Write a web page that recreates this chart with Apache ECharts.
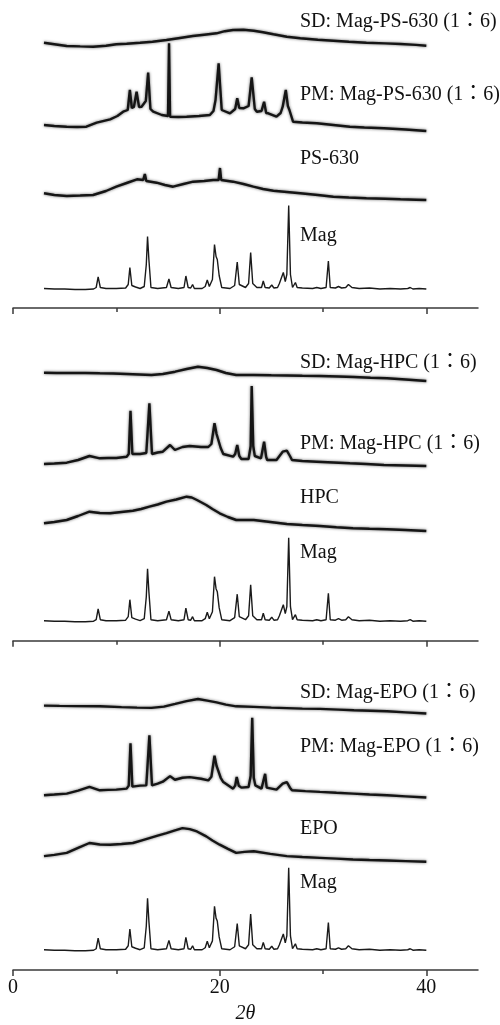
<!DOCTYPE html>
<html>
<head>
<meta charset="utf-8">
<script src="https://cdn.jsdelivr.net/npm/echarts@6/dist/echarts.min.js"></script>
<style>
	html, body { margin: 0; padding: 0; background: #fff; }
	#xrdChart { width: 500px; height: 1025px; }
</style>
</head>
<body>
<div id="xrdChart"></div>
<script>
	//刻度
	var majorTicks = [0, 20, 40];
	var minorTicks = [10, 30];

	//Mag 原料 (三组共用同一图谱)  [2θ, 强度]
	var mag = [[3.0,1],[4,0.5],[5,0.5],[6,0],[7,0],[7.8,0.5],[8.05,2],[8.24,12.7],[8.45,2],[9,1],[10,1],[10.9,1.5],[11.15,5],[11.31,22],[11.5,4],[11.86,2.5],[12.3,1],[12.7,3],[12.9,25],[13.02,53],[13.15,30],[13.35,2],[14,1],[14.85,2],[15.09,10.5],[15.3,2],[16,1],[16.55,2],[16.73,13.5],[16.95,2],[17.2,1.5],[17.38,5],[17.55,1],[18.3,1],[18.6,3],[18.8,9.5],[19.0,3],[19.3,10],[19.5,45],[19.65,33],[19.77,30],[19.95,14],[20.2,2],[21,1],[21.45,4],[21.7,27.5],[21.9,5],[22.5,2],[22.8,6],[23.0,37],[23.2,6],[23.6,2],[24.05,2],[24.22,8.5],[24.4,2],[24.8,1.5],[25.04,4.5],[25.25,1.5],[25.6,2],[25.78,6],[25.95,4],[26.16,17],[26.35,8],[26.5,15],[26.68,84],[26.85,15],[27.05,2],[27.33,7],[27.5,2],[28,1.5],[29,1],[29.4,2],[29.8,1],[30.3,2],[30.52,28.5],[30.7,2],[31.2,1.5],[31.5,3],[31.8,1.5],[32.2,2],[32.46,5],[32.8,2],[33.5,1],[34.5,1.5],[35.5,0.5],[36.5,1],[37.5,0.5],[38.2,1],[38.44,2],[38.7,0.5],[39.3,1],[40,0.5]];

	//PS-630 组
	var sdPs630 = [[3.0,4],[4,2.5],[5.2,0.7],[6.5,0.3],[7.75,0],[9,1],[10,2.4],[11,3],[12.3,4],[13.5,5],[14.85,6.7],[16,8.5],[17.4,10.7],[18.5,12],[19.7,13.4],[20.5,15.5],[21.3,16.7],[22.3,17],[23.3,16],[24.2,14.5],[25.2,12.4],[26.5,10],[27.8,8.4],[29.5,7],[31,6],[32.5,5],[34.2,4],[36,3.3],[37.5,2.7],[39,1.8],[40,1]];
	var pmPs630 = [[3.0,6],[4,5],[5.2,4.3],[6.2,4],[7.1,4.3],[8.1,8.3],[9.4,11.7],[10.1,15],[10.66,19.3],[11.1,21],[11.31,41],[11.5,23],[11.7,24],[11.96,39.3],[12.2,24],[12.44,24.3],[12.85,30],[13.08,58.3],[13.3,22],[13.57,19.3],[14.4,16],[15.0,15],[15.1,87.7],[15.2,14.3],[16,14],[16.8,14.3],[18,15],[19.05,16],[19.4,20],[19.6,31],[19.9,67.7],[20.2,21],[21.0,17.7],[21.5,22],[21.7,32.7],[21.9,23],[22.3,22.7],[22.8,25],[23.1,53.7],[23.4,22],[23.6,19.3],[24.05,20],[24.3,29.3],[24.5,18],[24.7,17.7],[25.5,14.3],[25.9,18],[26.1,24.3],[26.4,41],[26.6,25],[26.75,21],[27.1,9.3],[28,8.5],[29.4,7.7],[31,6],[32.6,4.3],[34,3.5],[35.9,2.7],[38,1.5],[40,0]];
	var ps630 = [[3.0,6.7],[4,5],[5.2,4],[6.5,4.5],[7.75,5],[9,9],[10,13.3],[11,17],[12,20.7],[12.6,20],[12.76,26],[12.9,19],[13.9,17.3],[14.7,15],[15.5,13.3],[16.5,16],[17.44,18.3],[18.5,19],[19.38,20],[19.9,20],[20.03,32],[20.15,20],[21.3,18.3],[22.3,16],[23.26,13.3],[24.2,11],[25.2,9.3],[26.5,8],[27.8,6.7],[29.5,5],[31,3.3],[32.5,2.5],[34.2,1.7],[36,1.2],[37.5,0.7],[39,0.3],[40,0]];

	//HPC 组
	var sdHpc = [[3.0,8.3],[4.2,8],[5.5,8],[7,8],[8.4,7.7],[9.7,7.5],[11,7],[12.2,6.5],[13.4,6],[14.5,7],[15.7,9.3],[16.8,12],[17.9,14.3],[18.8,13],[19.7,11],[20.6,8],[21.6,6],[23.3,6],[25,5.7],[26.5,5.5],[28,5.2],[29.7,5],[31.5,4.5],[33,4],[34.6,3.3],[36.2,2.7],[38,1.5],[40,0]];
	var pmHpc = [[3.0,2],[4,2.5],[5.2,3.3],[6.3,6],[7.4,10],[8.4,7.7],[9.2,8],[10,8],[11.0,9.3],[11.2,12],[11.37,55.3],[11.55,12],[12.3,12],[12.9,13],[13.2,62.7],[13.45,12],[14,13.5],[14.5,14.3],[15.2,21],[15.67,16],[16.4,19],[17.1,20],[18.2,19],[18.9,19],[19.2,22],[19.5,42.7],[19.7,32],[19.87,31],[20.1,18],[20.35,12],[21.3,9.3],[21.5,12],[21.7,21],[21.9,10],[22.1,7],[22.8,7],[23.0,20],[23.1,80],[23.25,20],[23.4,10],[24.0,7.7],[24.3,24.3],[24.5,9],[24.6,6],[25.5,6],[26.1,14.3],[26.5,15.3],[26.8,10],[27.0,6],[28,5],[29.4,4.3],[31,3.5],[32.6,2.7],[34.2,2],[35.9,1],[38,0.5],[40,0]];
	var hpc = [[3.0,7.7],[4,9],[5.2,11],[6.3,15],[7.4,19.3],[8.4,18],[9.4,17.7],[10.5,19],[11.6,20.3],[12.4,22],[13.2,24.3],[14,26.5],[14.85,29.3],[15.8,31.5],[16.8,34.3],[17.3,33.5],[17.8,31],[18.7,26],[19.3,22],[20.0,17.7],[20.8,14],[21.6,11],[22.4,11],[23.3,11],[24.9,9],[26.5,7],[28,6],[29.7,5],[31.3,3.8],[32.9,2.7],[34.5,2.2],[36.2,1.7],[38,1],[40,0]];

	//EPO 组
	var sdEpo = [[3.0,8],[4.5,7.7],[6,7.5],[8.4,7.3],[10.5,6.5],[12,6],[13.4,5.7],[14.6,7],[15.7,9.7],[16.8,12.5],[17.9,14.7],[18.8,13],[19.7,11.3],[20.6,9],[21.6,7.3],[23.3,6.7],[25,6],[26.5,5.5],[28,5],[29.7,4.7],[31.5,4],[33,3.3],[34.6,2.8],[36.2,2.3],[38,1.2],[40,0]];
	var pmEpo = [[3.0,2.3],[4,3],[5.2,4],[6.3,7],[7.4,10.7],[8.4,7.3],[9.2,7.7],[10,8],[11.0,9],[11.2,12],[11.37,55],[11.55,11],[12.3,12],[12.9,12.3],[13.2,63],[13.45,12.3],[14,14],[14.5,16],[15.2,21.7],[15.67,18],[16.4,20],[17.1,20.7],[18.2,19],[18.9,17.3],[19.2,21],[19.5,42.3],[19.7,32],[19.87,30.7],[20.1,20],[20.35,15.7],[21.3,9],[21.5,12],[21.65,20.7],[21.85,12],[22.1,10],[22.8,10.7],[23.0,22],[23.15,80.7],[23.3,20],[23.45,12.3],[24.05,9],[24.4,24],[24.55,10],[24.7,9],[25.5,8],[26.1,14],[26.5,15.7],[26.8,10],[27.0,7.3],[28.3,6.5],[29.7,5.7],[31.3,4.8],[32.9,4],[34.5,3],[36.2,2.3],[38,1.2],[40,0]];
	var epo = [[3.0,5.7],[4,7],[5.2,9],[6.3,14],[7.4,19],[8.4,17.5],[9.4,17.3],[10.5,18],[11.6,19],[12.4,21.5],[13.2,24],[14,26.5],[14.85,29],[15.6,31.5],[16.4,34],[17.1,33],[17.8,30.7],[18.7,25.7],[19.3,21.5],[20.0,17.3],[20.8,13],[21.6,9],[22.4,10],[23.3,10.7],[24.9,8],[26.5,5.7],[28,4.8],[29.7,4],[31.3,3.2],[32.9,2.3],[34.5,1.8],[36.2,1.3],[38,0.7],[40,0]];

	//曲线名称
	var namesPs630 = ['SD: Mag-PS-630 (1：6)', 'PM: Mag-PS-630 (1：6)', 'PS-630', 'Mag'];
	var namesHpc = ['SD: Mag-HPC (1：6)', 'PM: Mag-HPC (1：6)', 'HPC', 'Mag'];
	var namesEpo = ['SD: Mag-EPO (1：6)', 'PM: Mag-EPO (1：6)', 'EPO', 'Mag'];

	var groups = [
		{ names: namesPs630, traces: [sdPs630, pmPs630, ps630, mag] },
		{ names: namesHpc, traces: [sdHpc, pmHpc, hpc, mag] },
		{ names: namesEpo, traces: [sdEpo, pmEpo, epo, mag] }
	];

	//布局 (像素)
	var axisY = [308, 640.7, 973.5];
	var traceOffset = [[261.3, 177, 108, 18.5], [259.7, 174.7, 109.7, 19], [259.5, 174.5, 109.5, 19.5]];
	var labelY = [[21.5, 94.5, 159, 236], [363, 444, 498, 553], [693, 747, 829, 883]];
	var panelH = 300;
	//全角冒号用繁体字形(居中)
	var serif = '"Liberation Serif", "Times New Roman", "Noto Sans CJK TC", serif';

	var chart = echarts.init(document.getElementById('xrdChart'), null, { renderer: 'canvas' });

	var grid = [], xAxis = [], yAxis = [], series = [], graphic = [];

	groups.forEach(function(g, i) {
		var last = i === groups.length - 1;
		grid.push({ left: 13, right: 22, top: axisY[i] - panelH, height: panelH });

		//主刻度 + 轴线
		xAxis.push({
			type: 'value', gridIndex: i, min: 0, max: 45, position: 'bottom', offset: 0,
			axisLine: { show: true, lineStyle: { color: '#3a3a3a', width: 1.5 } },
			axisTick: { show: true, length: 6, customValues: majorTicks, lineStyle: { color: '#3a3a3a', width: 1.5 } },
			axisLabel: {
				show: last, customValues: majorTicks, margin: 8,
				fontFamily: serif, fontSize: 20, color: '#111'
			},
			splitLine: { show: false },
			name: last ? '2θ' : '',
			nameLocation: 'middle',
			nameGap: 34,
			nameTextStyle: { fontFamily: serif, fontStyle: 'italic', fontSize: 20, color: '#111' }
		});
		//次刻度
		xAxis.push({
			type: 'value', gridIndex: i, min: 0, max: 45, position: 'bottom', offset: 0,
			axisLine: { show: false },
			axisTick: { show: true, length: 4, customValues: minorTicks, lineStyle: { color: '#3a3a3a', width: 1.5 } },
			axisLabel: { show: false },
			splitLine: { show: false }
		});
		yAxis.push({ type: 'value', gridIndex: i, min: 0, max: panelH, show: false });

		g.traces.forEach(function(t, k) {
			var off = traceOffset[i][k];
			var isMag = k === 3;
			series.push({
				type: 'line',
				name: g.names[k],
				xAxisIndex: i * 2,
				yAxisIndex: i,
				symbol: 'none',
				clip: false,
				silent: true,
				data: t.map(function(p) { return [p[0], p[1] + off]; }),
				lineStyle: isMag ? { color: '#1a1a1a', width: 1.4 } :
					{ color: '#151515', width: 2.4, shadowBlur: 3, shadowColor: 'rgba(0,0,0,0.6)' }
			});
			graphic.push({
				type: 'text',
				x: 300,
				y: labelY[i][k],
				silent: true,
				style: {
					text: g.names[k],
					font: '20px ' + serif,
					fill: '#111',
					verticalAlign: 'middle'
				}
			});
		});
	});

	chart.setOption({
		animation: false,
		backgroundColor: '#fff',
		grid: grid,
		xAxis: xAxis,
		yAxis: yAxis,
		series: series,
		graphic: graphic
	});
</script>
</body>
</html>
